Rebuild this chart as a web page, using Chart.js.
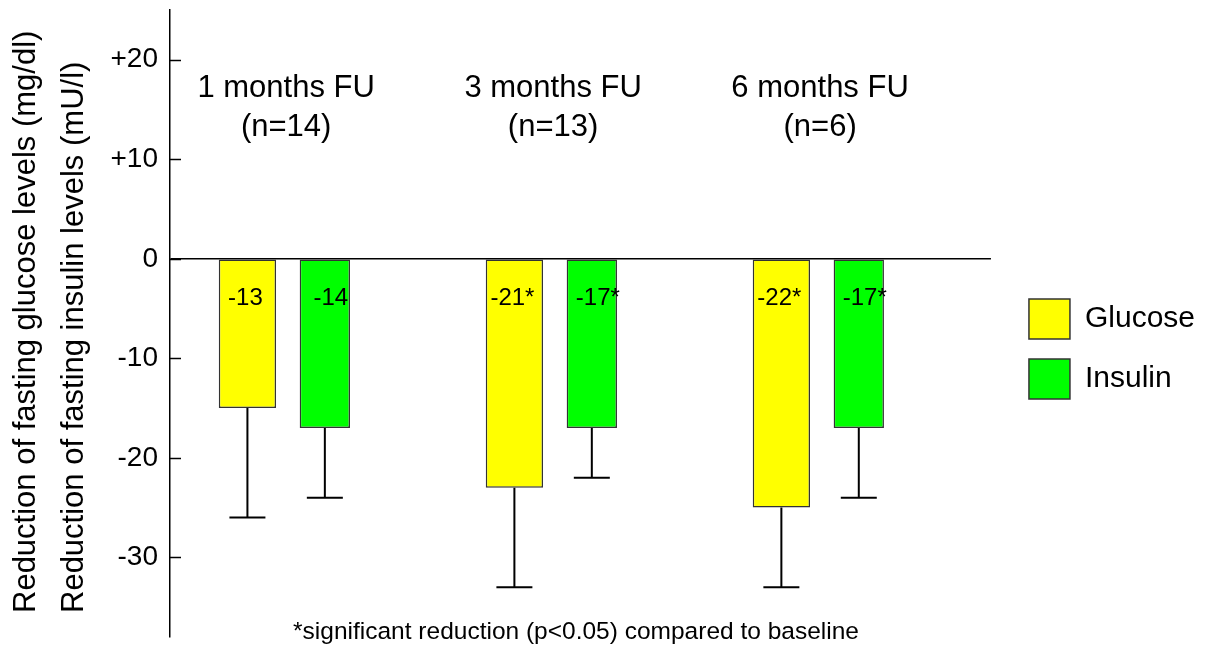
<!DOCTYPE html>
<html>
<head>
<meta charset="utf-8">
<script src="https://cdn.jsdelivr.net/npm/chart.js@4/dist/chart.umd.min.js"></script>
<style>
  html, body { margin: 0; padding: 0; background: #fff; }
  #wrap { width: 1205px; height: 646px; position: relative; }
</style>
</head>
<body>
<div id="wrap"><canvas id="chart"></canvas></div>
<script>
// Data
const categories = ['1 months FU', '3 months FU', '6 months FU'];
const sampleSizes = ['(n=14)', '(n=13)', '(n=6)'];
const glucose = [-15, -23, -25];
const insulin = [-17, -17, -17];
const glucoseLow = [-26, -33, -33];   // end of error whisker
const insulinLow = [-24, -22, -24];
const glucoseLabels = ['-13', '-21*', '-22*'];
const insulinLabels = ['-14', '-17*', '-17*'];
const yTicks = [20, 10, 0, -10, -20, -30];
const yTitle = ['Reduction of fasting glucose levels (mg/dl)', 'Reduction of fasting insulin levels (mU/l)'];
const footnote = '*significant reduction (p<0.05) compared to baseline';

const FONT = '"Liberation Sans", Arial, sans-serif';
Chart.defaults.font.family = FONT;
Chart.defaults.color = '#000';

const groupIdx = categories.map((c, i) => i + 1);

// error whiskers below each bar
const errorBars = {
  id: 'errorBars',
  afterDatasetsDraw(chart) {
    const ctx = chart.ctx;
    const y = chart.scales.y;
    const lows = [glucoseLow, insulinLow];
    ctx.save();
    ctx.strokeStyle = '#000';
    ctx.lineWidth = 2;
    chart.data.datasets.forEach((ds, d) => {
      chart.getDatasetMeta(d).data.forEach((bar, i) => {
        const yEnd = y.getPixelForValue(lows[d][i]);
        ctx.beginPath();
        ctx.moveTo(bar.x, bar.y);
        ctx.lineTo(bar.x, yEnd);
        ctx.moveTo(bar.x - 18, yEnd);
        ctx.lineTo(bar.x + 18, yEnd);
        ctx.stroke();
      });
    });
    ctx.restore();
  }
};

// value labels, group headers, inner ticks, axis title, footnote
const annotations = {
  id: 'annotations',
  afterDraw(chart) {
    const ctx = chart.ctx;
    const x = chart.scales.x;
    const y = chart.scales.y;
    const area = chart.chartArea;
    ctx.save();
    ctx.fillStyle = '#000';
    ctx.textAlign = 'center';
    ctx.textBaseline = 'middle';

    ctx.font = '24px ' + FONT;
    const texts = [glucoseLabels, insulinLabels];
    const shift = [-2, 6];
    chart.data.datasets.forEach((ds, d) => {
      chart.getDatasetMeta(d).data.forEach((bar, i) => {
        ctx.fillText(texts[d][i], bar.x + shift[d], y.getPixelForValue(-4));
      });
    });

    ctx.font = '31px ' + FONT;
    groupIdx.forEach((g, i) => {
      const px = x.getPixelForValue(g);
      ctx.fillText(categories[i], px, area.top + 78);
      ctx.fillText(sampleSizes[i], px, area.top + 117);
    });

    ctx.strokeStyle = '#000';
    ctx.lineWidth = 1.5;
    yTicks.forEach(v => {
      const py = Math.round(y.getPixelForValue(v)) + 0.5;
      ctx.beginPath();
      ctx.moveTo(area.left, py);
      ctx.lineTo(area.left + 11, py);
      ctx.stroke();
    });

    // rotated axis title, both lines starting at the same height
    ctx.font = '31px ' + FONT;
    ctx.textAlign = 'left';
    yTitle.forEach((line, i) => {
      ctx.save();
      ctx.translate(26 + i * 48, area.bottom - 24);
      ctx.rotate(-Math.PI / 2);
      ctx.fillText(line, 0, 0);
      ctx.restore();
    });

    ctx.textAlign = 'center';
    ctx.font = '24.5px ' + FONT;
    ctx.fillText(footnote, 576, 632);
    ctx.restore();
  }
};

new Chart(document.getElementById('chart'), {
  type: 'bar',
  data: {
    datasets: [
      {
        label: 'Glucose',
        data: glucose.map((v, i) => ({ x: groupIdx[i], y: v })),
        backgroundColor: '#ffff00',
        borderColor: '#333',
        borderWidth: 1.5,
        borderSkipped: false,
        categoryPercentage: 0.58,
        barPercentage: 0.74
      },
      {
        label: 'Insulin',
        data: insulin.map((v, i) => ({ x: groupIdx[i], y: v })),
        backgroundColor: '#00ff00',
        borderColor: '#333',
        borderWidth: 1.5,
        borderSkipped: false,
        categoryPercentage: 0.58,
        barPercentage: 0.65
      }
    ]
  },
  options: {
    responsive: true,
    maintainAspectRatio: false,
    animation: false,
    layout: { padding: { top: 10, bottom: 9, left: 0, right: 0 } },
    plugins: {
      tooltip: { enabled: false },
      legend: {
        position: 'right',
        title: { display: true, text: '', font: { size: 10, lineHeight: 1.1 }, padding: { top: 40, bottom: 0 } },
        labels: {
          boxWidth: 41,
          boxHeight: 40,
          padding: 20,
          color: '#000',
          font: { size: 30 }
        }
      }
    },
    scales: {
      x: {
        type: 'linear',
        display: false,
        offset: false,
        min: 0.565,
        max: 3.64,
        afterBuildTicks: s => { s.ticks = groupIdx.map(v => ({ value: v })); }
      },
      y: {
        position: 'left',
        min: -38,
        max: 25,
        afterBuildTicks: s => { s.ticks = yTicks.map(v => ({ value: v })); },
        afterFit: s => { s.width = 170; s.paddingTop = 0; s.paddingBottom = 0; },
        ticks: {
          color: '#000',
          font: { size: 28 },
          padding: 12,
          callback: v => (v > 0 ? '+' + v : String(v))
        },
        grid: {
          drawTicks: false,
          lineWidth: 1.5,
          color: c => (c.tick && c.tick.value === 0 ? '#000' : 'rgba(0,0,0,0)')
        },
        border: { display: true, color: '#000', width: 1.5 },
        title: { display: false }
      },
      y2: {
        position: 'right',
        display: true,
        afterFit: s => { s.width = 18; s.paddingTop = 0; s.paddingBottom = 0; },
        ticks: { display: false },
        grid: { display: false },
        border: { display: false }
      }
    }
  },
  plugins: [errorBars, annotations]
});
</script>
</body>
</html>
